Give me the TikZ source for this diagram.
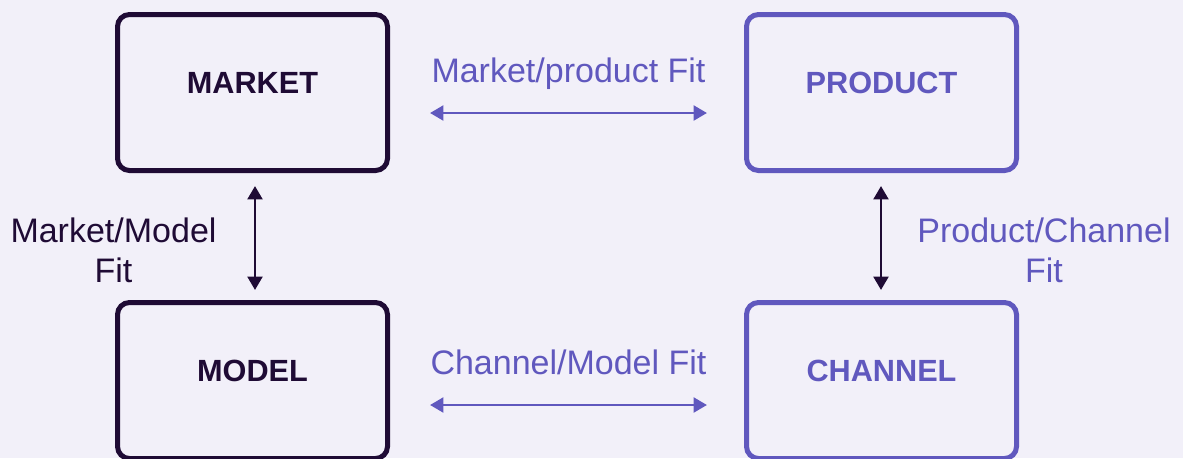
\documentclass[tikz,border=0pt]{standalone}
\usepackage{fontspec}
\setmainfont{Liberation Sans}
\usetikzlibrary{arrows.meta,calc}
\definecolor{bgc}{HTML}{F2F0F9}
\definecolor{darkc}{HTML}{1F0B35}
\definecolor{purp}{HTML}{6058BE}
\begin{document}
\begin{tikzpicture}[x=0.75pt,y=-0.75pt,
  box/.style={draw,rounded corners=9pt,line width=3.75pt,minimum width=202.5pt,minimum height=117pt,inner sep=0pt},
  boxlabel/.style={font=\fontsize{23}{27}\selectfont\bfseries},
  fitlabel/.style={font=\fontsize{25.5}{30}\selectfont,align=center,inner sep=0pt},
  arr/.style={line width=2.2pt,{Triangle[length=10pt,width=11pt]}-{Triangle[length=10pt,width=11pt]}}]
\fill[bgc] (0,0) rectangle (1183,458);
\useasboundingbox (0,0) rectangle (1183,458);
\begin{scope}
\clip (0,0) rectangle (1183,458);
\node[box,darkc] (market) at (252.5,92.5) {};
\node[box,purp] (product) at (881.5,92.5) {};
\node[box,darkc] (model) at (252.5,380.5) {};
\node[box,purp] (channel) at (881.5,380.5) {};
\end{scope}
\node[boxlabel,text=darkc] (lmarket) at ($(market.center)+(0,-9.5)$) {MARKET};
\node[boxlabel,text=purp] (lproduct) at ($(product.center)+(0,-9.5)$) {PRODUCT};
\node[boxlabel,text=darkc] (lmodel) at ($(model.center)+(0,-10)$) {MODEL};
\node[boxlabel,text=purp] (lchannel) at ($(channel.center)+(0,-10)$) {CHANNEL};
% horizontal arrows
\draw[arr,purp] ($(market.east)+(40,20.5)$) -- ($(product.west)+(-37,20.5)$);
\draw[arr,purp] ($(model.east)+(40,24.5)$) -- ($(channel.west)+(-37,24.5)$);
% vertical arrows
\draw[arr,darkc] ($(market.south)+(2.5,13)$) -- ($(model.north)+(2.5,-10)$);
\draw[arr,darkc] ($(product.south)+(-0.5,13)$) -- ($(channel.north)+(-0.5,-10)$);
% labels
\node[fitlabel,text=purp,anchor=base] (fmp) at (568.5,82) {Market/product Fit};
\node[fitlabel,text=purp,anchor=base] (fcm) at (568.5,374) {Channel/Model Fit};
\node[fitlabel,text=darkc,anchor=base] (fmm) at (113.5,282) {Market/Model\\Fit};
\node[fitlabel,text=purp,anchor=base] (fpc) at (1044,282) {Product/Channel\\Fit};
\end{tikzpicture}
\end{document}
